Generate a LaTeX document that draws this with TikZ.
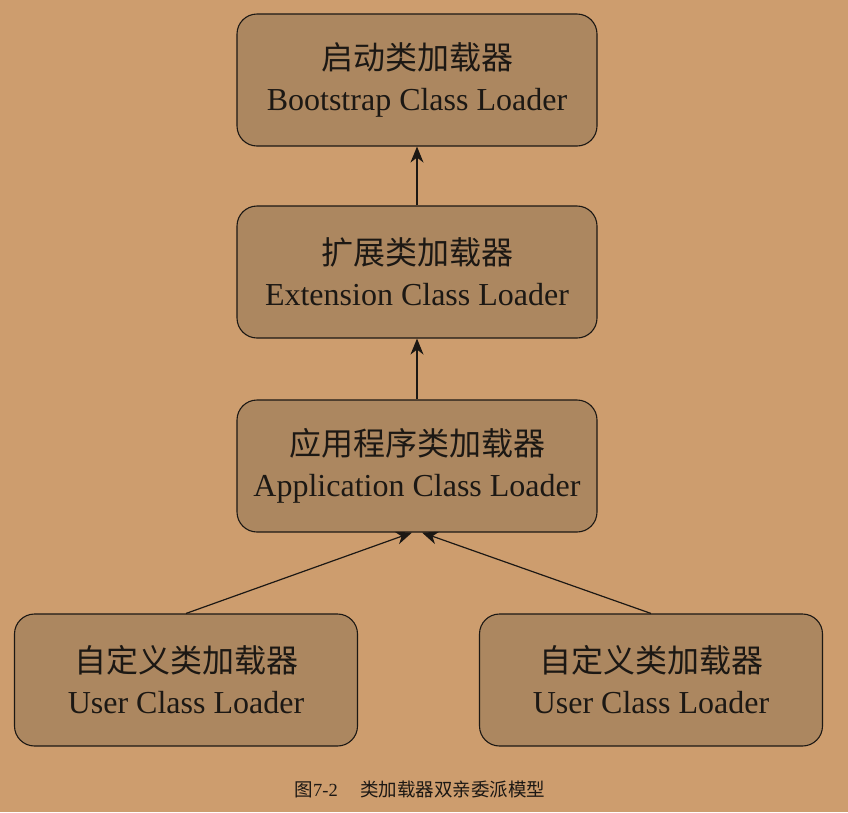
\documentclass[tikz,border=0pt]{standalone}
\usepackage{fontspec}
\setmainfont{Liberation Serif}
\newfontfamily\cjk{Noto Sans CJK SC}
\usetikzlibrary{arrows.meta}
\definecolor{bgtan}{RGB}{205,157,110}
\definecolor{boxtan}{RGB}{172,135,96}
\definecolor{inkdark}{RGB}{28,24,20}
\tikzset{
    >={Stealth[length=16pt,width=13pt,inset=5pt]},
    dp/.style={
        loader/.append style={align=center,draw=inkdark,line width=1.1pt,rounded corners=20pt,fill=boxtan,
            minimum width=360pt,minimum height=132pt,text=inkdark,font=\fontsize{32}{41}\selectfont},
        wide/.append style={minimum width=343pt},
        every edge/.append style={draw=inkdark,line width=1.2pt,->}
    }
}
\newcommand{\twoline}[2]{{\cjk\fontsize{32}{41}\selectfont #1}\\#2}

\begin{document}
\begin{tikzpicture}[dp,x=1pt,y=-1pt]
    \fill[bgtan] (0,0) rectangle (848,812);
    \useasboundingbox (0,0) rectangle (848,812);

    \node[loader] (boot) at (417,80) {\twoline{启动类加载器}{Bootstrap Class Loader}};
    \node[loader] (ext) at (417,272) {\twoline{扩展类加载器}{Extension Class Loader}} edge (boot);
    \node[loader] (app) at (417,466) {\twoline{应用程序类加载器}{Application Class Loader}} edge (ext);

    \node[loader,wide] (user1) at (186,680) {\twoline{自定义类加载器}{User Class Loader}};
    \node[loader,wide] (user2) at (651,680) {\twoline{自定义类加载器}{User Class Loader}};
    \draw (user1.north) edge ([xshift=-5pt]app.south);
    \draw (user2.north) edge ([xshift=5pt]app.south);

    \node[text=inkdark] (cap) at (420,789) {\cjk\fontsize{18.5}{22}\selectfont 图{\rmfamily 7-2}\quad\ 类加载器双亲委派模型};
\end{tikzpicture}
\end{document}
